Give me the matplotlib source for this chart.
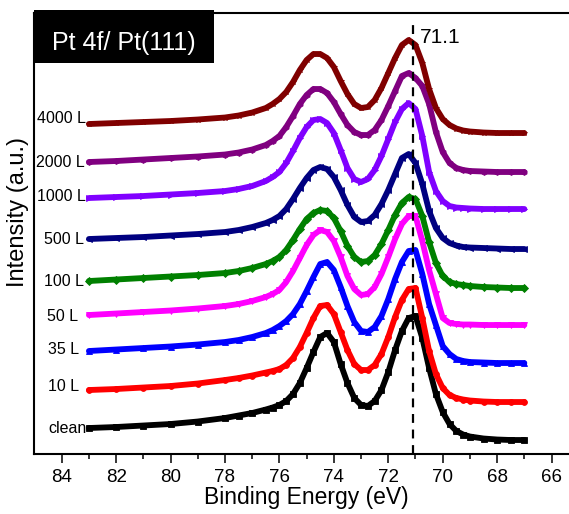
"""
XPS Pt 4f sobre Pt(111): espectros apilados vs. exposicion
"""

import matplotlib
matplotlib.use('Agg')
import matplotlib.pyplot as plt
from matplotlib.patches import Rectangle

plt.rcParams['font.family'] = ['Liberation Sans', 'DejaVu Sans']

# Energia de enlace (eV) de los puntos leidos
energia = [83, 82, 81, 80, 79, 78, 77.5, 77, 76.5, 76.25, 76, 75.75, 75.5, 75.25,
           75, 74.75, 74.5, 74.25, 74, 73.75, 73.5, 73.25, 73, 72.75, 72.5, 72.25,
           72, 71.75, 71.5, 71.25, 71, 70.75, 70.5, 70.25, 70, 69.75, 69.5, 69.25,
           69, 68.5, 68, 67.5, 67]

etiquetas = ['clean', '10 L', '35 L', '50 L', '100 L', '500 L', '1000 L', '2000 L', '4000 L']

# Intensidades (u.a.), ya desplazadas verticalmente
clean = [26, 27, 28.5, 30, 32.5, 36, 38.5, 41, 44.5, 46.5, 49, 53, 60, 71,
         86, 102, 117, 121, 112, 90, 71, 56, 49, 48, 53, 64,
         82, 104, 123, 136, 138, 116, 86, 60, 42, 30, 23, 19.5,
         17.5, 15.5, 14.5, 14, 14]
l10 = [64, 65, 66.5, 68, 70.5, 74, 76, 78.5, 81.5, 83, 85, 89, 96, 107,
       121, 136, 148, 149, 140, 122, 104, 90, 84, 84, 89, 100,
       117, 137, 154, 165, 166, 136, 103, 80, 66, 59, 56, 54.5,
       53.5, 52.5, 52, 52, 52]
l35 = [103, 104.5, 106, 107.5, 109.5, 112, 114, 117, 121, 124, 128, 133, 140, 150,
       163, 177, 190, 192, 184, 167, 148, 132, 123, 122, 127, 138,
       155, 175, 192, 203, 204, 180, 150, 129, 108, 100, 95, 93,
       92, 91.5, 91, 91, 91]
l50 = [139, 140.5, 142, 143.5, 145.5, 148, 150, 153, 157, 160, 164, 172, 183, 196,
       209, 219, 224, 222, 213, 197, 178, 165, 159, 160, 167, 180,
       197, 215, 230, 238, 238, 213, 184, 160, 136, 131, 130, 129.5,
       129.5, 129, 129, 129, 129]
l100 = [173, 174.5, 176, 177.5, 179, 181, 183, 186, 190, 193, 197, 204, 214, 225,
        235, 241, 244, 243, 236, 223, 208, 197, 192, 193, 199, 210,
        224, 239, 251, 257, 255, 238, 212, 191, 178, 172, 170, 169,
        168, 167, 166.5, 166, 166]
l500 = [215, 216, 217, 218.5, 220, 222, 224, 227, 231, 234, 238, 245, 255, 266,
        276, 284, 287, 285, 277, 264, 249, 237, 232, 233, 239, 250,
        264, 280, 296, 300, 291, 270, 243, 226, 216, 211, 208.5, 207,
        206.5, 206, 205.5, 205, 205]
l1000 = [256, 257, 258, 259.5, 261, 263, 265, 268, 273, 277, 282, 291, 303, 316,
         327, 334, 335, 331, 321, 304, 286, 275, 272, 275, 284, 298,
         315, 332, 345, 351, 345, 318, 282, 263, 253, 248, 246.5, 246,
         245.5, 245, 245, 245, 245]
l2000 = [292, 293, 294.5, 296, 297.5, 299.5, 301.5, 304.5, 309, 313, 318, 327, 338, 350,
         359, 365, 365, 361, 352, 340, 329, 322, 319, 319, 324, 334,
         348, 363, 378, 381, 376, 368, 350, 322, 302, 291, 286, 284,
         283, 282.5, 282, 282, 282]
l4000 = [330, 331, 332, 333, 334.5, 336.5, 338.5, 341.5, 346, 350, 355, 362, 372, 384,
         394, 400, 400, 396, 387, 373, 360, 350, 346, 347, 354, 366,
         381, 396, 409, 414, 409, 391, 365, 346, 335, 329, 325.5, 323.5,
         322.5, 321.5, 321, 321, 321]

pico = 71.1

series = [clean, l10, l35, l50, l100, l500, l1000, l2000, l4000]
colores = ['#000000', '#FF0000', '#0000FF', '#FF00FF', '#008000',
           '#000080', '#8000FF', '#800080', '#800000']
marcadores = ['s', 'o', '^', 'v', 'D', '<', '>', 'h', '*']

# posicion de cada etiqueta (x del borde derecho, y del centro)
etiqueta_x = [83.10, 83.36, 83.36, 83.40, 83.18, 83.18, 83.10, 83.14, 83.10]
etiqueta_y = [26, 68, 105, 138, 173, 215, 258, 292, 336]


def main():
    fig = plt.figure(figsize=(5.69, 5.14), dpi=100)
    ax = fig.add_axes([0.0606, 0.1167, 0.9566, 0.858])

    for y, c, m in zip(series, colores, marcadores):
        ax.plot(energia, y, color=c, lw=4.2, marker=m, ms=4.2, mec=c, mew=0.6,
                solid_capstyle='round', solid_joinstyle='round')

    for txt, xt, yt in zip(etiquetas, etiqueta_x, etiqueta_y):
        ax.text(xt, yt, txt, ha='right', va='center', fontsize=11.5)

    # linea de referencia del Pt 4f7/2 metalico
    ax.plot([pico, pico], [0, 431], color='black', lw=1.6, ls=(0, (4, 3)))
    ax.text(pico - 0.25, 411, f'{pico}', ha='left', va='baseline', fontsize=15)

    ax.set_xlim(85, 65)
    ax.set_ylim(0, 441)
    ax.set_xticks(range(66, 85, 2))
    ax.set_xticks(range(67, 85, 2), minor=True)
    ax.set_yticks([])
    ax.tick_params(axis='x', which='major', direction='out', length=6.5, width=1.1,
                   labelsize=13.5, pad=4)
    ax.tick_params(axis='x', which='minor', direction='out', length=3.6, width=1.1)
    for s in ax.spines.values():
        s.set_linewidth(1.5)

    ax.set_xlabel('Binding Energy (eV)', fontsize=16.5, labelpad=0)
    fig.text(18 / 569, 1 - 212 / 514, 'Intensity (a.u.)', rotation=90,
             ha='center', va='center', fontsize=17)

    # recuadro del titulo
    fig.add_artist(Rectangle((34 / 569, 1 - 63 / 514), 180 / 569, 53 / 514,
                             transform=fig.transFigure, facecolor='black',
                             edgecolor='none', zorder=5))
    fig.text(52 / 569, 1 - 50 / 514, 'Pt 4f/ Pt(111)', color='white',
             fontsize=18, ha='left', va='baseline', zorder=6)

    fig.savefig('out.png', dpi=100)
    plt.close(fig)


if __name__ == "__main__":
    main()
